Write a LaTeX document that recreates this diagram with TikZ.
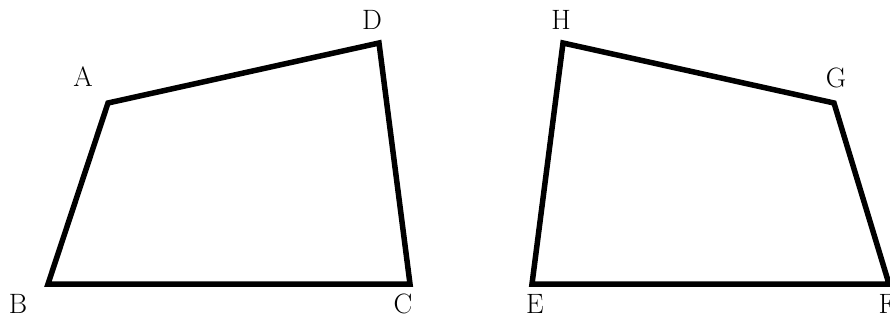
\documentclass[tikz,border=0pt]{standalone}
\begin{document}
\begin{tikzpicture}[x=1pt,y=-1pt,
  edge/.style={line width=5.5pt,line join=miter},
  lbl/.style={font=\fontsize{28}{32}\selectfont,inner sep=0pt}]
\useasboundingbox (0,0) rectangle (890,322);
\coordinate (A) at (108,103);
\coordinate (B) at (48,284);
\coordinate (C) at (410,284);
\coordinate (D) at (379,43);
\coordinate (E) at (532,284);
\coordinate (F) at (889,284);
\coordinate (G) at (834,103);
\coordinate (H) at (563,43);
\draw[edge] (A) -- (B) -- (C) -- (D) -- cycle;
\draw[edge] (E) -- (F) -- (G) -- (H) -- cycle;
\node[lbl] (lA) at (83,77) {A};
\node[lbl] (lB) at (18,304) {B};
\node[lbl] (lC) at (403,304) {C};
\node[lbl] (lD) at (372,20) {D};
\node[lbl] (lE) at (535,304) {E};
\node[lbl] (lF) at (887,304) {F};
\node[lbl] (lG) at (836,78) {G};
\node[lbl] (lH) at (561,20) {H};
\end{tikzpicture}
\end{document}
